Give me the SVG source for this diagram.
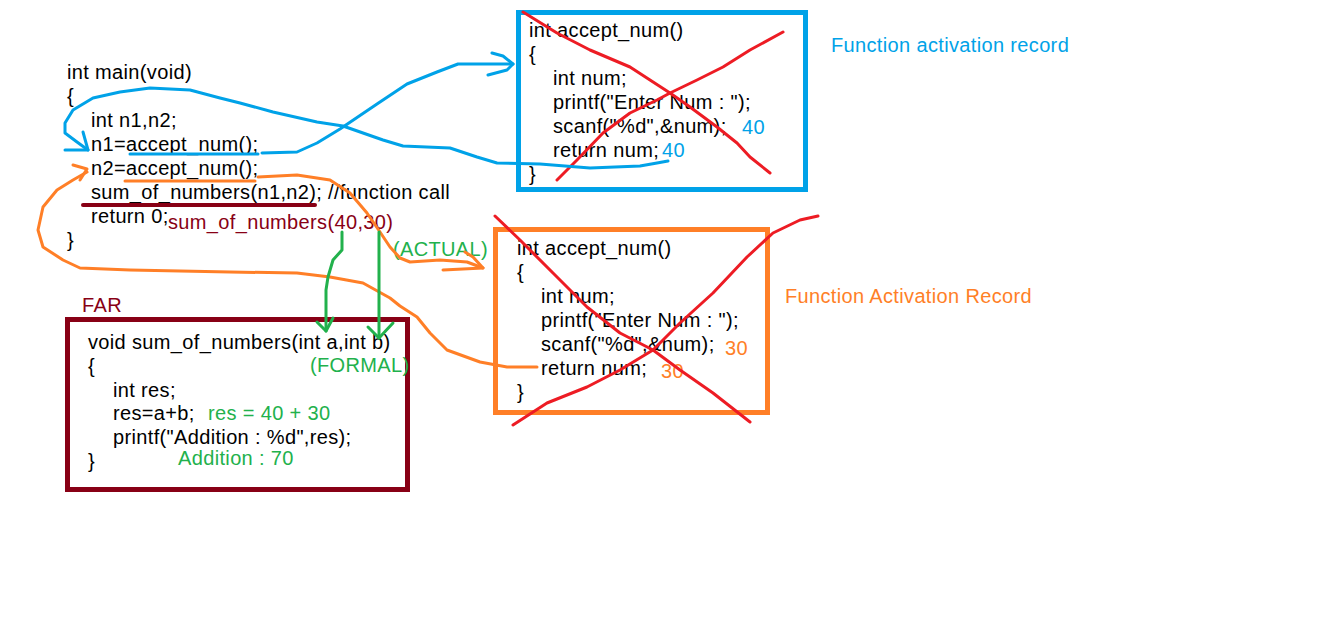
<svg xmlns="http://www.w3.org/2000/svg" width="1326" height="644" viewBox="0 0 1326 644">
<style>
text{font-family:"Liberation Sans",Arial,sans-serif;font-size:20px;letter-spacing:0.35px}
.k{fill:#000}
.b{fill:#00A2E8}
.o{fill:#FF7F27}
.g{fill:#22B14C}
.d{fill:#880015}
.ln{fill:none;stroke-linejoin:round;stroke-linecap:round}
.sb{stroke:#00A2E8;stroke-width:3}
.so{stroke:#FF7F27;stroke-width:3}
.sg{stroke:#22B14C;stroke-width:3}
.sr{stroke:#ED1C24;stroke-width:3}
.sd{stroke:#880015;stroke-width:4}
</style>
<rect width="1326" height="644" fill="#fff"/>

<g id="main-code">
<text class="k" x="67" y="79">int main(void)</text>
<text class="k" x="67" y="103">{</text>
<text class="k" x="91" y="127">int n1,n2;</text>
<text class="k" x="91" y="151">n1=accept_num();</text>
<text class="k" x="91" y="175">n2=accept_num();</text>
<text class="k" x="91" y="199">sum_of_numbers(n1,n2); //function call</text>
<text class="k" x="91" y="223">return 0;</text>
<text class="k" x="67" y="247">}</text>
<text class="d" x="168" y="229">sum_of_numbers(40,30)</text>
</g>

<g id="activation-record-1">
<rect x="518.5" y="12.5" width="287" height="177" fill="none" stroke="#00A2E8" stroke-width="5"/>
<text class="k" x="529" y="37">int accept_num()</text>
<text class="k" x="529" y="61">{</text>
<text class="k" x="553" y="85">int num;</text>
<text class="k" x="553" y="109">printf("Enter Num : ");</text>
<text class="k" x="553" y="133">scanf("%d",&amp;num);</text>
<text class="k" x="553" y="157">return num;</text>
<text class="k" x="529" y="181">}</text>
<text class="b" x="742" y="134">40</text>
<text class="b" x="662" y="157">40</text>
<polyline class="ln sr" points="523,12 557,33 590,50 630,67 650,80 670,93 690,107 717,127 737,143 750,157 770,173"/>
<polyline class="ln sr" points="557,180 577,160 603,133 630,113 657,100 670,93 697,80 723,67 750,50 783,32"/>
</g>
<g id="label-activation-record-1">
<text class="b" x="831" y="52">Function activation record</text>
</g>

<g id="activation-record-2">
<rect x="495.5" y="229.5" width="272" height="183" fill="none" stroke="#FF7F27" stroke-width="5"/>
<text class="k" x="517" y="255">int accept_num()</text>
<text class="k" x="517" y="279">{</text>
<text class="k" x="541" y="303">int num;</text>
<text class="k" x="541" y="327">printf("Enter Num : ");</text>
<text class="k" x="541" y="351">scanf("%d",&amp;num);</text>
<text class="k" x="541" y="375">return num;</text>
<text class="k" x="517" y="399">}</text>
<text class="o" x="725" y="355">30</text>
<text class="o" x="661" y="378">30</text>
<polyline class="ln sr" points="495,216 520,240 553,273 587,307 620,333 653,350 680,370 713,393 750,422"/>
<polyline class="ln sr" points="513,425 547,403 587,387 620,370 653,350 680,323 713,293 747,257 773,233 800,220 818,216"/>
</g>
<g id="label-activation-record-2">
<text class="o" x="785" y="303">Function Activation Record</text>
</g>

<g id="far">
<text class="d" x="82" y="312">FAR</text>
<rect x="67.5" y="319.5" width="340" height="170" fill="none" stroke="#880015" stroke-width="5"/>
<text class="k" x="88" y="349">void sum_of_numbers(int a,int b)</text>
<text class="k" x="88" y="373">{</text>
<text class="k" x="113" y="397">int res;</text>
<text class="k" x="113" y="420">res=a+b;</text>
<text class="k" x="113" y="444">printf("Addition : %d",res);</text>
<text class="k" x="88" y="468">}</text>
<text class="g" x="208" y="420">res = 40 + 30</text>
<text class="g" x="178" y="465">Addition : 70</text>
<text class="g" x="310" y="372">(FORMAL)</text>
</g>

<g id="label-actual">
<text class="g" x="393" y="256">(ACTUAL)</text>
</g>

<g id="connectors">
<!-- blue: call to accept_num (n1) -->
<line class="ln sb" x1="130" y1="154" x2="258" y2="154"/>
<polyline class="ln sb" points="262,153 297,152 317,143 340,129 377,104 407,84 437,72 458,64 513,64"/>
<polyline class="ln sb" points="492,53 503,56 513,64 507,70 488,75"/>
<!-- blue: return 40 -->
<polyline class="ln sb" points="668,161 657,163 640,166 590,168 540,164 497,163 477,157 450,148 403,146 383,140 343,126 317,122 273,112 240,103 220,98 190,90 150,88 120,92 93,98 73,110 65,123 65,133 77,142 88,150"/>
<polyline class="ln sb" points="83,132 88,150 65,150"/>
<!-- orange: call to accept_num (n2) -->
<line class="ln so" x1="125" y1="181" x2="255" y2="181"/>
<polyline class="ln so" points="258,177 297,175 330,180 350,193 367,213 380,232 390,247 400,258 410,262 440,260 467,262 483,268"/>
<polyline class="ln so" points="465,252 473,257 483,268 443,270"/>
<!-- orange: return 30 -->
<polyline class="ln so" points="537,367 507,367 480,362 447,350 430,333 417,317 400,306 390,298 363,283 330,277 297,273 230,272 130,270 80,268 63,260 43,247 38,230 43,207 57,190 73,180 87,172"/>
<polyline class="ln so" points="73,165 87,169 80,180"/>
<!-- dark red underline of the call -->
<line class="ln sd" x1="83" y1="205" x2="315" y2="205"/>
<!-- green: actual to formal a -->
<polyline class="ln sg" points="342,232 342,250 333,260 328,277 326,290 326,331"/>
<polyline class="ln sg" points="317,322 326,331 333,318"/>
<!-- green: actual to formal b -->
<line class="ln sg" x1="379" y1="232" x2="379" y2="338"/>
<polyline class="ln sg" points="368,327 379,338 393,323"/>
</g>
</svg>
